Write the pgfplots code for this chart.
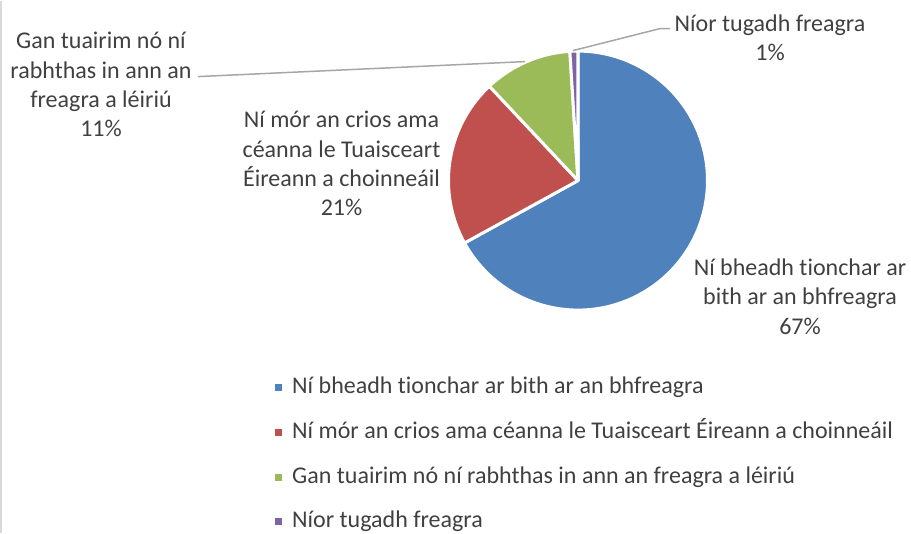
\documentclass[border=0pt]{standalone}
\usepackage{pgfplots}
\pgfplotsset{compat=1.18}
\usepackage{fontspec}
\setmainfont{Carlito}[Ligatures={NoCommon}]
\definecolor{cA}{HTML}{4F81BD}
\definecolor{cB}{HTML}{C0504D}
\definecolor{cC}{HTML}{9BBB59}
\definecolor{cD}{HTML}{8064A2}
\definecolor{txt}{HTML}{404040}
\definecolor{lead}{HTML}{A6A6A6}
\definecolor{frame}{HTML}{D9D9D9}
\newcommand\lbl{\fontsize{24bp}{29.3bp}\selectfont}
\begin{document}
\begin{tikzpicture}
% percentages
\pgfmathsetmacro\vA{67}
\pgfmathsetmacro\vB{21}
\pgfmathsetmacro\vC{11}
\pgfmathsetmacro\vD{1}
\pgfmathsetmacro\tot{\vA+\vB+\vC+\vD}
\pgfmathsetmacro\aA{90}
\pgfmathsetmacro\aB{\aA-\vA/\tot*360}
\pgfmathsetmacro\aC{\aB-\vB/\tot*360}
\pgfmathsetmacro\aD{\aC-\vC/\tot*360}
\pgfmathsetmacro\aE{\aD-\vD/\tot*360}
\begin{axis}[x=1bp,y=1bp,xmin=0,xmax=911,ymin=0,ymax=532,
  hide axis,scale only axis,clip=false,
  legend cell align=left,
  legend style={at={(axis description cs:0.3019,0.2932)},anchor=north west,
    draw=none,fill=none,font=\lbl,text=txt,row sep=22.7bp,inner sep=0pt,
    column sep=0bp,
    nodes={inner sep=0pt,text height=17bp,text depth=5bp}},
  every axis plot/.append style={line join=round}]
\addplot[draw=none,forget plot] coordinates {(0,0) (911,532)};
% frame line at left
\addplot[frame,line width=1.2bp,forget plot] coordinates {(1,0) (1,532)};
% wedges
\addplot[fill=cA,draw=white,line width=3bp,forget plot,domain=\aB:\aA,samples=150]
  ({578+129.5*cos(x)},{352+129.5*sin(x)}) -- (578,352) -- cycle;
\addplot[fill=cB,draw=white,line width=3bp,forget plot,domain=\aC:\aB,samples=60]
  ({578+129.5*cos(x)},{352+129.5*sin(x)}) -- (578,352) -- cycle;
\addplot[fill=cC,draw=white,line width=3bp,forget plot,domain=\aD:\aC,samples=40]
  ({578+129.5*cos(x)},{352+129.5*sin(x)}) -- (578,352) -- cycle;
\addplot[fill=cD,draw=white,line width=3bp,forget plot,domain=\aE:\aD,samples=10]
  ({578+129.5*cos(x)},{352+129.5*sin(x)}) -- (578,352) -- cycle;
% leader lines
\addplot[lead,line width=1.5bp,forget plot] coordinates {(198,456) (525,471)};
\addplot[lead,line width=1.5bp,forget plot] coordinates {(573,482) (660,504) (670,504)};
% data labels
\node[font=\lbl,text=txt,align=center] at (800,236) {Ní bheadh tionchar ar\\bith ar an bhfreagra\\67\%};
\node[font=\lbl,text=txt,align=center] at (341.5,369) {Ní mór an crios ama\\céanna le Tuaisceart\\Éireann a choinneáil\\21\%};
\node[font=\lbl,text=txt,align=center] at (101,448) {Gan tuairim nó ní\\rabhthas in ann an\\freagra a léiriú\\11\%};
\node[font=\lbl,text=txt,align=center] at (770,495) {Níor tugadh freagra\\1\%};
% legend
\addlegendimage{legend image code/.code={\fill[cA,draw=none] (0bp,-3.5bp) rectangle (7bp,3.5bp); \path[draw=none,fill=none] (0bp,0bp) (17bp,0bp);}}
\addlegendentry{Ní bheadh tionchar ar bith ar an bhfreagra}
\addlegendimage{legend image code/.code={\fill[cB,draw=none] (0bp,-3.5bp) rectangle (7bp,3.5bp); \path[draw=none,fill=none] (0bp,0bp) (17bp,0bp);}}
\addlegendentry{Ní mór an crios ama céanna le Tuaisceart Éireann a choinneáil}
\addlegendimage{legend image code/.code={\fill[cC,draw=none] (0bp,-3.5bp) rectangle (7bp,3.5bp); \path[draw=none,fill=none] (0bp,0bp) (17bp,0bp);}}
\addlegendentry{Gan tuairim nó ní rabhthas in ann an freagra a léiriú}
\addlegendimage{legend image code/.code={\fill[cD,draw=none] (0bp,-3.5bp) rectangle (7bp,3.5bp); \path[draw=none,fill=none] (0bp,0bp) (17bp,0bp);}}
\addlegendentry{Níor tugadh freagra}
\end{axis}
\end{tikzpicture}
\end{document}
